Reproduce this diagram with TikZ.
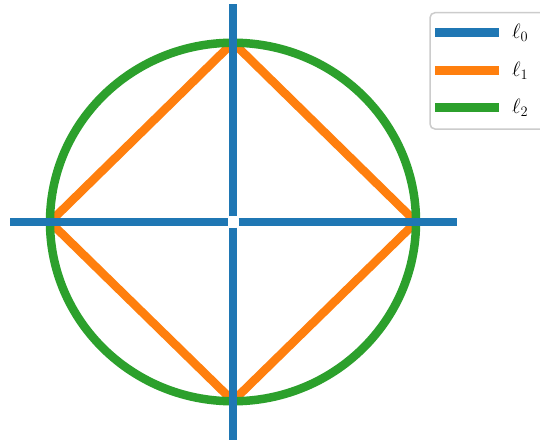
\documentclass[tikz,border=0pt]{standalone}
\usetikzlibrary{calc}
\definecolor{tabblue}{HTML}{1F77B4}
\definecolor{taborange}{HTML}{FF7F0E}
\definecolor{tabgreen}{HTML}{2CA02C}
\definecolor{legframe}{HTML}{CCCCCC}
\tikzset{
  plotline/.style={line width=8.5pt, line cap=butt, line join=miter},
  legline/.style={line width=9pt, line cap=butt},
  legtext/.style={anchor=west, inner sep=0pt, font=\fontsize{22}{26}\selectfont}
}
\begin{document}
\begin{tikzpicture}[x=1pt,y=-1pt]
\useasboundingbox (0,0) rectangle (540,439);
\clip (0,0) rectangle (540,439);
\fill[white] (0,0) rectangle (540,439);
\coordinate (c) at (233,222);
\coordinate (top) at (233,42.5);
\coordinate (bot) at (233,401);
\coordinate (lft) at (50,222);
\coordinate (rgt) at (416,222);
% orange diamond
\draw[plotline, taborange] (top) -- (rgt) -- (bot) -- (lft) -- cycle;
% green circle
\draw[plotline, tabgreen] (c) ellipse [x radius=183, y radius=179.25];
% blue cross with a gap at the centre
\coordinate (vt) at (233,4);
\coordinate (vb) at (233,440);
\coordinate (hl) at (10,222);
\coordinate (hr) at (457,222);
\draw[plotline, tabblue] ($(c)+(0,-5.6)$) -- (vt);
\draw[plotline, tabblue] ($(c)+(0,5.6)$) -- (vb);
\draw[plotline, tabblue] ($(c)+(-5.5,0)$) -- (hl);
\draw[plotline, tabblue] ($(c)+(5.5,0)$) -- (hr);
% legend
\draw[legframe, line width=1.5pt, fill=white, rounded corners=5pt] (430,12.7) rectangle (548,129);
\draw[legline, tabblue] (435,32) -- (499,32);
\draw[legline, taborange] (435,70) -- (499,70);
\draw[legline, tabgreen] (435,107) -- (499,107);
\node[legtext] (l0) at (512,33) {$\ell_{\scriptstyle 0}$};
\node[legtext] (l1) at (512,71) {$\ell_{\scriptstyle 1}$};
\node[legtext] (l2) at (512,108) {$\ell_{\scriptstyle 2}$};
\end{tikzpicture}
\end{document}
